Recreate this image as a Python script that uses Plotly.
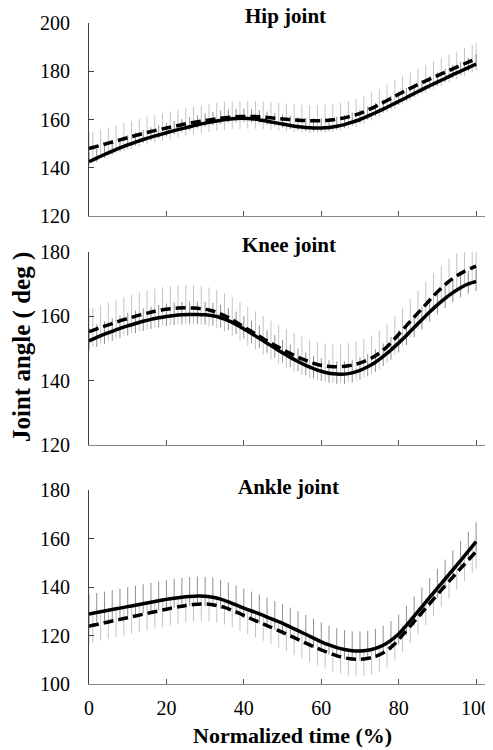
import plotly.graph_objects as go

# ---------------- data ----------------
x_solid = list(range(0, 101, 2))
x_dashed = [0] + list(range(1, 100, 2)) + [100]

hip_solid = [142.5, 144.0, 145.5, 146.9, 148.2, 149.5, 150.6, 151.7, 152.7, 153.6,
             154.5, 155.4, 156.2, 157.0, 157.8, 158.5, 159.1, 159.7, 160.1, 160.4,
             160.5, 160.3, 159.9, 159.3, 158.7, 158.1, 157.5, 157.0, 156.7, 156.5,
             156.5, 156.7, 157.2, 157.9, 158.9, 160.0, 161.4, 162.8, 164.3, 165.9,
             167.5, 169.1, 170.8, 172.4, 174.0, 175.5, 177.0, 178.6, 180.0, 181.5, 183.0]
hip_dashed = [148.0, 148.4, 149.3, 150.2, 151.1, 152.0, 152.9, 153.8, 154.6, 155.4,
              156.1, 156.8, 157.5, 158.2, 158.8, 159.3, 159.8, 160.3, 160.7, 161.0,
              161.2, 161.3, 161.2, 161.0, 160.7, 160.4, 160.1, 159.8, 159.6, 159.5,
              159.5, 159.6, 159.9, 160.4, 161.1, 162.0, 163.2, 164.6, 166.2, 167.9,
              169.6, 171.3, 172.9, 174.5, 176.0, 177.5, 178.9, 180.3, 181.7, 183.1,
              184.5, 185.2]

knee_solid = [152.3, 153.4, 154.4, 155.3, 156.2, 157.0, 157.7, 158.4, 159.0, 159.5,
              159.9, 160.2, 160.4, 160.5, 160.5, 160.4, 160.1, 159.5, 158.6, 157.4,
              156.0, 154.6, 153.1, 151.6, 150.1, 148.6, 147.2, 145.9, 144.7, 143.7,
              142.9, 142.3, 142.0, 142.0, 142.4, 143.2, 144.3, 145.7, 147.5, 149.5,
              151.7, 154.0, 156.5, 158.9, 161.3, 163.5, 165.5, 167.3, 168.8, 170.0, 170.8]
knee_dashed = [155.2, 155.6, 156.5, 157.3, 158.1, 158.9, 159.6, 160.3, 160.9, 161.5,
               162.0, 162.3, 162.5, 162.6, 162.5, 162.3, 161.9, 161.2, 160.2, 158.9,
               157.4, 155.9, 154.5, 153.0, 151.6, 150.3, 149.0, 147.8, 146.7, 145.8,
               145.0, 144.5, 144.3, 144.3, 144.6, 145.1, 145.9, 147.0, 148.5, 150.5,
               153.0, 155.7, 158.4, 161.0, 163.6, 166.3, 168.7, 170.8, 172.5, 173.9,
               175.0, 175.5]

ankle_solid = [128.9, 129.5, 130.1, 130.7, 131.3, 131.9, 132.5, 133.1, 133.7, 134.3,
               134.9, 135.4, 135.8, 136.1, 136.3, 136.2, 135.8, 135.0, 133.9, 132.6,
               131.3, 130.1, 128.9, 127.6, 126.3, 125.0, 123.5, 122.0, 120.5, 118.9,
               117.4, 116.1, 115.0, 114.2, 113.7, 113.6, 113.9, 114.7, 116.0, 118.0,
               120.6, 124.2, 128.0, 131.8, 135.7, 139.5, 143.3, 147.1, 150.9, 154.8, 158.7]
ankle_dashed = [123.8, 124.2, 124.9, 125.6, 126.3, 127.0, 127.7, 128.4, 129.1, 129.8,
                130.5, 131.2, 131.8, 132.4, 132.8, 133.0, 132.9, 132.4, 131.6, 130.4,
                129.0, 127.5, 126.1, 124.8, 123.4, 122.0, 120.6, 119.1, 117.6, 116.1,
                114.7, 113.4, 112.2, 111.2, 110.5, 110.2, 110.3, 110.9, 112.0, 113.8,
                116.6, 120.2, 123.9, 127.6, 131.3, 135.0, 138.7, 142.3, 145.9, 149.4,
                152.9, 154.6]

# error bar extents (plus, minus) per panel
err_solid = {"hip": (4.0, 1.5), "knee": (4.0, 3.0), "ankle": (8.0, 4.0)}
err_dashed = {"hip": (6.5, 5.0), "knee": (7.0, 5.0), "ankle": (4.0, 7.0)}

panel_titles = ["Hip joint", "Knee joint", "Ankle joint"]
y_ranges = [[120, 200], [120, 180], [100, 180]]
x_ticks = [0, 20, 40, 60, 80, 100]

panels = [("hip", hip_solid, hip_dashed),
          ("knee", knee_solid, knee_dashed),
          ("ankle", ankle_solid, ankle_dashed)]

# ---------------- layout geometry ----------------
# the page body has an 8px default margin; figure coords = screen coords - OFF
OFF = 8
W, H = 493 - OFF, 750 - OFF
# screen-space plot box: left 89, right 485, top 23, bottom 684
ml = 89 - OFF
mr = W - (485 - OFF)
mt = 23 - OFF
mb = H - (684 - OFF)
ph = H - mt - mb
pw = W - ml - mr
def py(p):  # screen pixel y -> paper fraction
    return ((684 - OFF) - (p - OFF)) / ph
def px(p):  # screen pixel x -> paper fraction
    return ((p - OFF) - ml) / pw

domains = [[py(216), 1.0], [py(445), py(251.7)], [0.0, py(490)]]

fig = go.Figure()
serif = "Liberation Serif, Times New Roman, serif"

for i, (key, sol, das) in enumerate(panels):
    ax = "" if i == 0 else str(i + 1)
    xa, ya = "x" + ax, "y" + ax
    sp, sm = err_solid[key]
    dp, dm = err_dashed[key]
    # error bars (behind lines)
    fig.add_trace(go.Scatter(
        x=x_dashed, y=das, mode="markers", xaxis=xa, yaxis=ya,
        marker=dict(size=1, color="rgba(0,0,0,0)"), showlegend=False, hoverinfo="skip",
        error_y=dict(type="data", symmetric=False, array=[dp] * len(das),
                     arrayminus=[dm] * len(das), color="#c4c4c4", thickness=1, width=0)))
    fig.add_trace(go.Scatter(
        x=x_solid, y=sol, mode="markers", xaxis=xa, yaxis=ya,
        marker=dict(size=1, color="rgba(0,0,0,0)"), showlegend=False, hoverinfo="skip",
        error_y=dict(type="data", symmetric=False, array=[sp] * len(sol),
                     arrayminus=[sm] * len(sol), color="#8f8f8f", thickness=1, width=0)))
    # lines
    fig.add_trace(go.Scatter(
        x=x_solid, y=sol, mode="lines", xaxis=xa, yaxis=ya, showlegend=False,
        line=dict(color="black", width=3.5, shape="spline", smoothing=0.6)))
    fig.add_trace(go.Scatter(
        x=x_dashed, y=das, mode="lines", xaxis=xa, yaxis=ya, showlegend=False,
        line=dict(color="black", width=3.5, dash="10px,5px", shape="spline", smoothing=0.6)))

    fig.layout["xaxis" + ax] = dict(
        domain=[0, 1], anchor=ya, range=[0, 102.3], tickvals=x_ticks, automargin=False,
        showticklabels=(i == 2), ticks="inside", ticklen=5, tickcolor="#555",
        showline=True, linecolor="#8a8a8a", linewidth=1.2, showgrid=False, zeroline=False,
        tickfont=dict(family=serif, size=20, color="black"), ticklabelstandoff=6)
    fig.layout["yaxis" + ax] = dict(
        domain=domains[i], anchor=xa, range=y_ranges[i], dtick=20, automargin=False,
        ticks="inside", ticklen=5, tickcolor="#444",
        showline=True, linecolor="#404040", linewidth=1.2, showgrid=False, zeroline=False,
        tickfont=dict(family=serif, size=20, color="black"), ticklabelstandoff=14)

title_y = [py(16), py(245), py(487)]
title_x = [px(285), px(289), px(288)]
annotations = []
for t, xx, yy in zip(panel_titles, title_x, title_y):
    annotations.append(dict(text="<b>%s</b>" % t, x=xx, y=yy, xref="paper", yref="paper",
                            xanchor="center", yanchor="middle", showarrow=False,
                            font=dict(family=serif, size=21, color="black")))
annotations.append(dict(text="<b>Joint angle ( deg )</b>", textangle=-90,
                        x=px(22), y=py(347), xref="paper", yref="paper",
                        xanchor="center", yanchor="middle", showarrow=False,
                        font=dict(family=serif, size=25, color="black")))
annotations.append(dict(text="<b>Normalized time (%)</b>",
                        x=px(292), y=py(735), xref="paper", yref="paper",
                        xanchor="center", yanchor="middle", showarrow=False,
                        font=dict(family=serif, size=22, color="black")))

fig.update_layout(width=W, height=H, margin=dict(l=ml, r=mr, t=mt, b=mb, autoexpand=False),
                  paper_bgcolor="white", plot_bgcolor="white",
                  annotations=annotations, showlegend=False)

fig.write_html("out.html")
